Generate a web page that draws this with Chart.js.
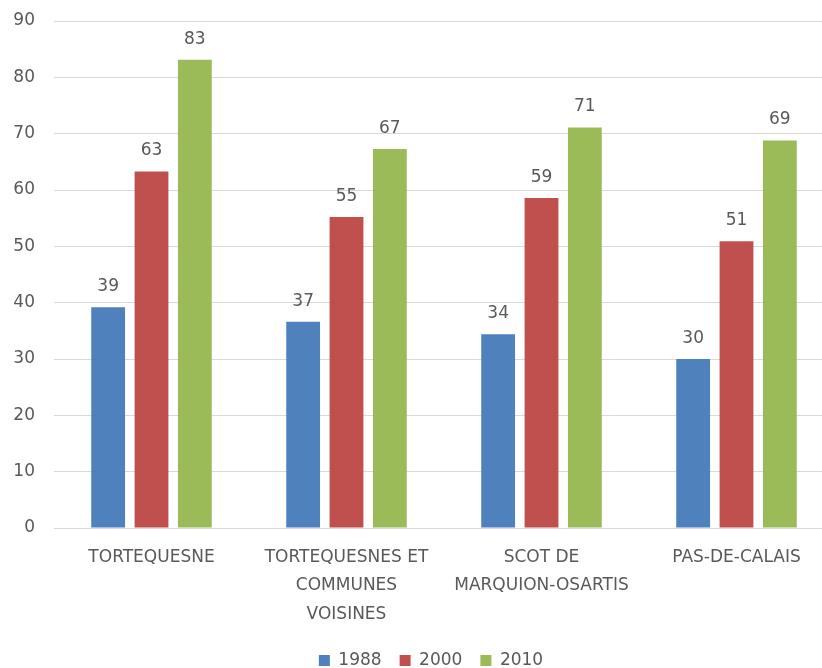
<!DOCTYPE html>
<html>
<head>
<meta charset="utf-8">
<script src="https://cdn.jsdelivr.net/npm/chart.js@4"></script>
<style>
  html, body { margin: 0; padding: 0; background: #fff; overflow: hidden; }
  #wrap { width: 834px; height: 668px; }
</style>
</head>
<body>
<div id="wrap"><canvas id="agriChart"></canvas></div>
<script>
const categories = [
  ["TORTEQUESNE"],
  ["TORTEQUESNES ET", "COMMUNES", "VOISINES"],
  ["SCOT DE", "MARQUION-OSARTIS"],
  ["PAS-DE-CALAIS"],
];
const years = ["1988", "2000", "2010"];
const values1988 = [39.2, 36.6, 34.4, 30.0];
const values2000 = [63.3, 55.2, 58.6, 50.9];
const values2010 = [83.1, 67.3, 71.1, 68.8];
const yTicks = [0, 10, 20, 30, 40, 50, 60, 70, 80, 90];

const textColor = "#595959";
const fontFamily = "'DejaVu Sans', sans-serif";

// draws the rounded value above each bar
const barLabels = {
  id: "barLabels",
  afterLayout(chart) {
    // legend sits a little right of the canvas centre, like the original
    chart.legend.left += 14;
    chart.legend.right += 14;
  },
  afterDatasetsDraw(chart) {
    const ctx = chart.ctx;
    ctx.save();
    ctx.font = "17px " + fontFamily;
    ctx.fillStyle = textColor;
    ctx.textAlign = "center";
    ctx.textBaseline = "alphabetic";
    chart.data.datasets.forEach((ds, i) => {
      chart.getDatasetMeta(i).data.forEach((bar, j) => {
        ctx.fillText(Math.round(ds.data[j]), bar.x, bar.y - 16);
      });
    });
    ctx.restore();
  },
};

function plotChart() {
  const ctx = document.getElementById("agriChart").getContext("2d");

  const config = {
    type: "bar",
    data: {
      labels: categories,
      datasets: [
        { label: years[0], data: values1988, backgroundColor: "#4F81BD" },
        { label: years[1], data: values2000, backgroundColor: "#C0504D" },
        { label: years[2], data: values2010, backgroundColor: "#9BBB59" },
      ],
    },
    options: {
      responsive: true,
      maintainAspectRatio: false,
      animation: false,
      categoryPercentage: 0.667,
      barPercentage: 0.78,
      layout: {
        padding: { left: 0, right: 0, top: 21, bottom: -11 },
      },
      plugins: {
        legend: {
          position: "bottom",
          labels: {
            boxWidth: 11,
            boxHeight: 11,
            padding: 18,
            color: textColor,
            font: { family: fontFamily, size: 17 },
          },
        },
        tooltip: { enabled: false },
      },
      scales: {
        x: {
          afterFit(scale) {
            scale.height = 106;
          },
          grid: { display: false },
          border: { display: false },
          ticks: {
            color: textColor,
            padding: 8,
            maxRotation: 0,
            autoSkip: false,
            font: { family: fontFamily, size: 17, lineHeight: 1.65 },
          },
        },
        y: {
          min: 0,
          max: 90,
          afterFit(scale) {
            scale.width = 54;
            scale.paddingTop = 0;
            scale.paddingBottom = 0;
          },
          afterBuildTicks(scale) {
            scale.ticks = yTicks.map((v) => ({ value: v }));
          },
          grid: { color: "#d9d9d9", drawTicks: false },
          border: { display: false },
          ticks: {
            color: textColor,
            padding: 19,
            font: { family: fontFamily, size: 17 },
          },
        },
      },
    },
    plugins: [barLabels],
  };
  new Chart(ctx, config);
}

plotChart();
</script>
</body>
</html>
